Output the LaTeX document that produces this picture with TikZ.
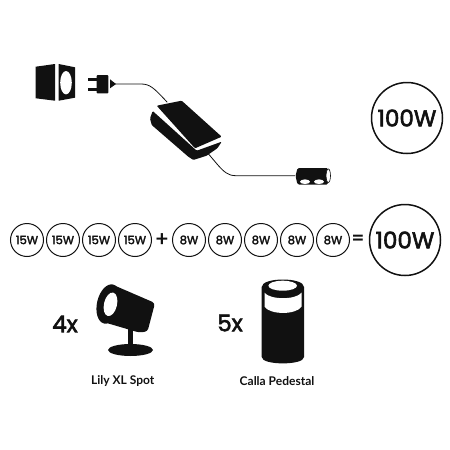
\documentclass[tikz,border=0pt]{standalone}
\usepackage{fontspec}
\setmainfont{Lato}
\newfontfamily\wattfont[FakeBold=2.5]{Poppins}
\definecolor{ink}{HTML}{111111}
\tikzset{
  x=1pt,y=-1pt,
  solid fill/.style={fill=ink,draw=none},
  hole/.style={fill=white,draw=none},
  cable/.style={draw=ink,line width=0.8pt,line cap=round},
  watt/.style={circle,draw=ink,line width=1pt,fill=white,minimum size=33pt,inner sep=0pt,text=ink,font=\fontsize{11.5}{13}\wattfont},
  bigwatt/.style={circle,draw=ink,line width=1.5pt,fill=white,minimum size=71pt,inner sep=0pt,text=ink,font=\fontsize{23}{26}\wattfont},
  sign/.style={inner sep=0pt,text=ink,font=\fontsize{22}{26}\selectfont\bfseries},
  count/.style={inner sep=0pt,text=ink,font=\fontsize{23}{24}\wattfont},
  caption/.style={inner sep=0pt,text=ink,font=\fontsize{12}{14}\selectfont\bfseries},
}
\begin{document}
\begin{tikzpicture}
\useasboundingbox (0,0) rectangle (450,450);
% socket
\fill[solid fill] (35.7,66.7)--(55,64)--(55,100.7)--(35.7,98.3)--cycle;
\fill[solid fill] (58.7,64)--(75,67.3)--(75,97.7)--(58.7,100.7)--cycle;
\fill[hole] (66,82.7) ellipse [x radius=5.8,y radius=11.7];
% plug
\fill[solid fill,rounded corners=0.8pt] (96.7,75) rectangle (108.3,93.3);
\fill[solid fill] (88.3,77.7) rectangle (97,80.7);
\fill[solid fill] (88.3,87.7) rectangle (97,91);
\fill[solid fill] (110,79.3)--(116,84)--(110,88.3)--cycle;
\coordinate (plugtail) at (115,84);
% power brick
\fill[solid fill,rounded corners=1pt] (156.7,105.7)--(181.7,100.7)--(221.7,136.7)--(195,148.3)--cycle;
\fill[solid fill,rounded corners=1pt] (152.7,111)--(150,118.3)--(151.7,125)--(188.3,156.7)--(193.3,160)--(206.7,155.7)--(217.3,148.3)--(221.7,141.7)--(196.7,150.7)--cycle;
\coordinate (brickin) at (167,102);
\coordinate (brickout) at (206,151);
\draw[cable] (plugtail) -- (141,84) .. controls (150,84) and (154,88) .. (brickin);
% connector
\fill[solid fill,rounded corners=1.5pt] (297.5,168)--(328,168)--(328,184.5)--(297.5,184.5)--(295.5,176)--cycle;
\coordinate (connin) at (295,175.7);
\draw[cable] (brickout) -- (217,164) .. controls (224,172) and (228,175.7) .. (236,175.7) -- (connin);
\fill[hole] (305,181.7) ellipse [x radius=5,y radius=2.3];
\fill[hole] (319,181.7) ellipse [x radius=5,y radius=2.3];
\draw[draw=ink,fill=white,line width=0.6pt] (328.3,175.7) ellipse [x radius=2.2,y radius=6.8];
% top-right
\node[bigwatt] (total) at (407,118) {100W};
% equation
\node[watt] (a1) at (27,240) {15W};
\node[watt] (a2) at (63,240) {15W};
\node[watt] (a3) at (99,240) {15W};
\node[watt] (a4) at (135,240) {15W};
\node[sign] (plus) at (162,240) {+};
\node[watt] (b1) at (189,240) {8W};
\node[watt] (b2) at (225,240) {8W};
\node[watt] (b3) at (261,240) {8W};
\node[watt] (b4) at (297,240) {8W};
\node[watt] (b5) at (333,240) {8W};
\node[sign] (equals) at (358,240) {=};
\node[bigwatt] (sum) at (405,240) {100W};
% spot lamp
\fill[solid fill,rounded corners=3pt] (111.7,284.3)--(155,303)--(147.5,331.5)--(139,332.5)--(105,322.5)--cycle;
\fill[solid fill,rotate around={-13:(108.5,304)}] (108.5,304) ellipse [x radius=11.5,y radius=20];
\fill[hole,rotate around={-13:(110.5,304.3)}] (110.5,304.3) ellipse [x radius=6.5,y radius=12];
\fill[solid fill] (127.7,325) rectangle (133.3,350);
\fill[solid fill] (130.5,350) ellipse [x radius=22.5,y radius=6];
\node[count] (n4) at (65,324) {4x};
\node[caption] (lily) at (122.7,380.7) {Lily XL Spot};
% pedestal
\fill[solid fill] (261.7,287) .. controls (261.7,277) and (304,277) .. (304,287) -- (304,357) .. controls (304,365.5) and (261.7,365.5) .. (261.7,357) -- cycle;
\fill[hole] (264.5,292.7) .. controls (270,300) and (296,300) .. (301.5,292.7) -- (301.5,306.7) .. controls (296,315) and (270,315) .. (264.5,306.7) -- cycle;
\fill[hole] (282.7,285.7) ellipse [x radius=14.3,y radius=5];
\node[count] (n5) at (230,323) {5x};
\node[caption] (calla) at (277,381) {Calla Pedestal};
\end{tikzpicture}
\end{document}
